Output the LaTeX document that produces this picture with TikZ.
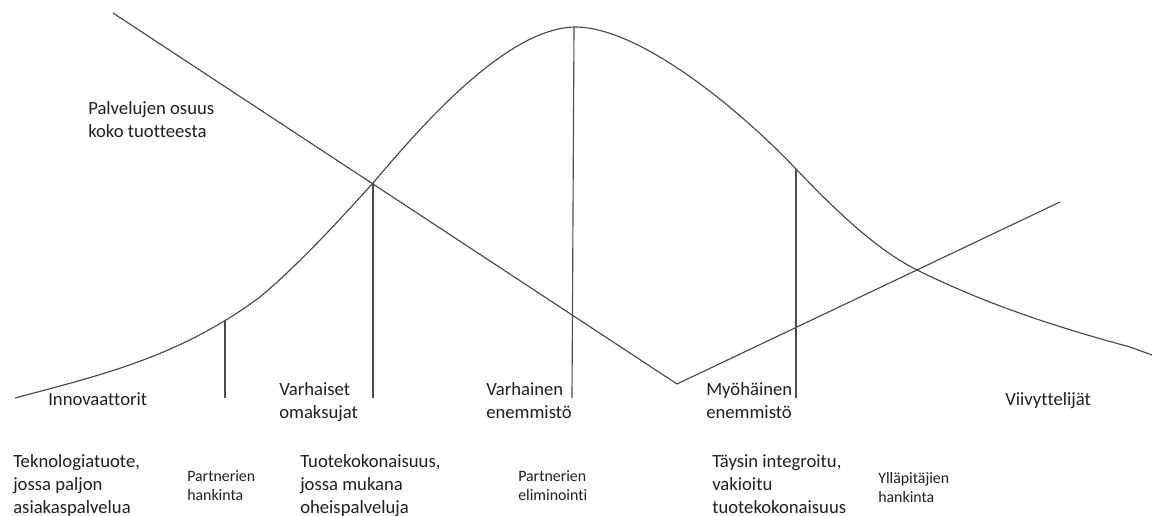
\documentclass[tikz,border=0pt]{standalone}
\usepackage{fontspec}
\setmainfont{Carlito}[Ligatures=CommonOff]
\begin{document}
\begin{tikzpicture}[x=0.75pt,y=-0.75pt,
  curve/.style={draw=black!72,line width=0.85pt,line join=round},
  marker/.style={draw=black!70,line width=0.85pt},
  biglabel/.style={anchor=base west,inner sep=0pt,align=left,text=black!88,
    font=\fontsize{14pt}{17.25pt}\selectfont},
  smalllabel/.style={anchor=base west,inner sep=0pt,align=left,text=black!88,
    font=\fontsize{11.9pt}{14.25pt}\selectfont}]
\useasboundingbox (0,0) rectangle (1157,516);

% key points of the curves
\coordinate (sTop) at (113,13);
\coordinate (sLow) at (677,384);
\coordinate (sEnd) at (1060,202);
\coordinate (bStart) at (15,398);
\coordinate (bA) at (260,297);
\coordinate (bB) at (373,183);
\coordinate (bPeak) at (575,27);
\coordinate (bC) at (796,169);
\coordinate (bD) at (917,270);
\coordinate (bKink) at (1130,347);
\coordinate (bEnd) at (1152,355);

% adoption (bell) curve
\draw[curve] (bStart)
  .. controls (97,376) and (178,358) .. (bA)
  .. controls (298,265) and (335,225) .. (bB)
  .. controls (410,140) and (502,28) .. (bPeak)
  .. controls (640,27) and (740,110) .. (bC)
  .. controls (836,211) and (877,250) .. (bD)
  .. controls (990,306) and (1060,328) .. (bKink)
  -- (bEnd);

% share of services in the whole product
\draw[curve] (sTop) -- (sLow) -- (sEnd);

% segment boundaries
\coordinate (m1t) at (225,321); \coordinate (m1b) at (225,398);
\coordinate (m2t) at (373,183); \coordinate (m2b) at (373,398);
\coordinate (m3t) at (574,27);  \coordinate (m3b) at (572,398);
\coordinate (m4t) at (796,169); \coordinate (m4b) at (796,398);
\draw[marker] (m1t) -- (m1b);
\draw[marker] (m2t) -- (m2b);
\draw[marker] (m3t) -- (m3b);
\draw[marker] (m4t) -- (m4b);

% labels (anchored at the baseline of their last line)
\node[biglabel] (share) at (88,138) {Palvelujen osuus\\koko tuotteesta};

\node[biglabel] (inno) at (48,406) {Innovaattorit};
\node[biglabel] (early) at (279,419) {Varhaiset\\omaksujat};
\node[biglabel] (emaj) at (486,419) {Varhainen\\enemmistö};
\node[biglabel] (lmaj) at (706,419) {Myöhäinen\\enemmistö};
\node[biglabel] (lag) at (1005,406) {Viivyttelijät};

\node[biglabel] (p1) at (13,513) {Teknologiatuote,\\jossa paljon\\asiakaspalvelua};
\node[smalllabel] (t1) at (187,501) {Partnerien\\hankinta};
\node[biglabel] (p2) at (300,513) {Tuotekokonaisuus,\\jossa mukana\\oheispalveluja};
\node[smalllabel] (t2) at (518,501) {Partnerien\\eliminointi};
\node[biglabel] (p3) at (712,513) {Täysin integroitu,\\vakioitu\\tuotekokonaisuus};
\node[smalllabel] (t3) at (878,503) {Ylläpitäjien\\hankinta};
\end{tikzpicture}
\end{document}
